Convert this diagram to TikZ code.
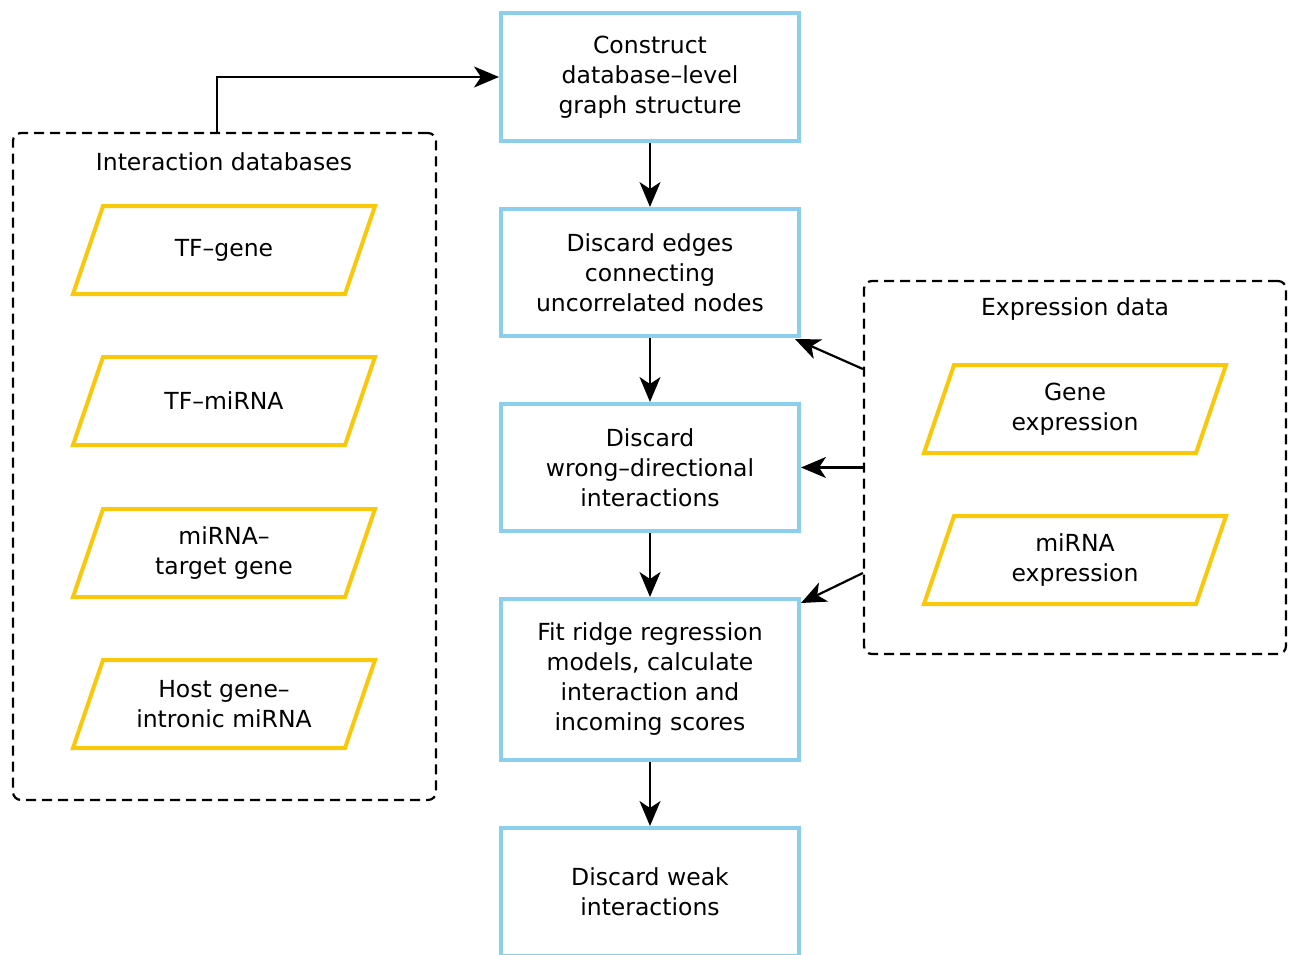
\documentclass[tikz,border=0pt]{standalone}
\usepackage{fontspec}
\setmainfont{DejaVu Sans}
\usetikzlibrary{arrows.meta,calc}
\definecolor{boxblue}{RGB}{140,206,238}
\definecolor{paryellow}{RGB}{250,200,10}
\tikzset{
  stepbox/.style={draw=boxblue, line width=4pt, minimum width=298pt, align=center, inner sep=0pt, font=\fontsize{23.5}{30}\selectfont},
  ptext/.style={align=center, inner sep=0pt, font=\fontsize{23.5}{30}\selectfont},
  para/.style={draw=paryellow, line width=4pt, line join=miter},
  container/.style={draw, dashed, dash pattern=on 10pt off 6pt, line width=2.2pt, rounded corners=8pt, inner sep=0pt},
  conn/.style={line width=2.2pt, -{Stealth[length=25pt,width=21pt,inset=7pt]}},
  title/.style={inner sep=0pt, font=\fontsize{23.5}{30}\selectfont}
}
\newcommand\parabox[3]{%
  \node[ptext] (#1) at (#2) {#3};
  \draw[para] ([shift={(-121,-44)}]#1.center) -- ([shift={(151,-44)}]#1.center) -- ([shift={(121,44)}]#1.center) -- ([shift={(-151,44)}]#1.center) -- cycle;}
\begin{document}
\begin{tikzpicture}[x=1pt,y=-1pt]
\useasboundingbox (0,0) rectangle (1291,955);
% containers
\node[container, minimum width=423pt, minimum height=667pt] (idb) at (224.5,466.5) {};
\node[title] (idbt) at (224,162) {Interaction databases};
\node[container, minimum width=422pt, minimum height=373pt] (exd) at (1075,467.5) {};
\node[title] (exdt) at (1075,309) {Expression data};
% parallelograms
\parabox{tfg}{224,250}{TF–gene}
\parabox{tfm}{224,401}{TF–miRNA}
\parabox{mtg}{224,553}{miRNA–\\target gene}
\parabox{hgm}{224,704}{Host gene–\\intronic miRNA}
\parabox{gex}{1075,409}{Gene\\expression}
\parabox{mex}{1075,560}{miRNA\\expression}
% steps
\node[stepbox, minimum height=128pt] (b1) at (650,77) {Construct\\database–level\\graph structure};
\node[stepbox, minimum height=127pt] (b2) at (650,272.5) {Discard edges\\connecting\\uncorrelated nodes};
\node[stepbox, minimum height=127pt] (b3) at (650,467.5) {Discard\\wrong–directional\\interactions};
\node[stepbox, minimum height=161pt] (b4) at (650,679.5) {Fit ridge regression\\models, calculate\\interaction and\\incoming scores};
\node[stepbox, minimum height=128pt] (b5) at (650,892) {Discard weak\\interactions};
% connectors
\draw[conn] ([xshift=-7.5pt]idb.north) |- (b1.west);
\draw[conn] (b1.south) -- (b2.north);
\draw[conn] (b2.south) -- (b3.north);
\draw[conn] (b3.south) -- (b4.north);
\draw[conn] (b4.south) -- (b5.north);
\draw[conn] ([yshift=98.5pt]exd.west) -- ([xshift=-6pt,yshift=-1pt]b2.south east);
\draw[conn] (exd.west) -- (b3.east);
\draw[conn] ([yshift=-105.5pt]exd.west) -- ([yshift=-6pt]b4.north east);
\end{tikzpicture}
\end{document}
